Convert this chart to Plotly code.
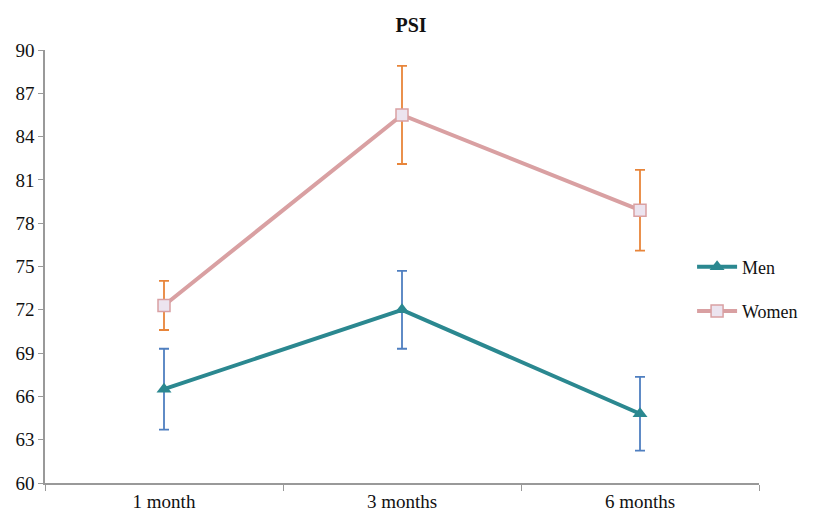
import plotly.graph_objects as go

categories = ["1 month", "3 months", "6 months"]
men = [66.5, 72.0, 64.8]
men_err = [2.8, 2.7, 2.55]
women = [72.3, 85.5, 78.9]
women_err = [1.7, 3.4, 2.8]
y_ticks = [60, 63, 66, 69, 72, 75, 78, 81, 84, 87, 90]

font_serif = "Liberation Serif, Times New Roman, serif"

fig = go.Figure()
fig.add_trace(go.Scatter(
    x=categories, y=men, name="Men", mode="lines+markers", legendgroup="men",
    line=dict(color="#2b8890", width=4),
    marker=dict(symbol="triangle-up", size=13, color="#2b8890"),
    error_y=dict(type="data", array=men_err, visible=True, color="#4f7fc0", thickness=1.8, width=5),
))
fig.add_trace(go.Scatter(
    x=categories, y=women, name="Women", mode="lines+markers", legendgroup="women",
    line=dict(color="#d9a0a2", width=4),
    marker=dict(symbol="square", size=12, color="#ece4ef", line=dict(color="#d9a0a2", width=1.5)),
    error_y=dict(type="data", array=women_err, visible=True, color="#e8853a", thickness=1.8, width=5),
))

fig.update_layout(
    width=806, height=505,
    margin=dict(l=37, r=54, t=42, b=30),
    paper_bgcolor="white", plot_bgcolor="white",
    title=dict(text="<b>PSI</b>", x=0.5, xanchor="center", y=0.966, yanchor="middle",
               font=dict(family=font_serif, size=20, color="#111")),
    font=dict(family=font_serif, color="#111"),
    showlegend=True,
    legend=dict(x=0.905, y=0.5416, xanchor="left", yanchor="top",
                font=dict(family=font_serif, size=18, color="#111"),
                bgcolor="rgba(0,0,0,0)", itemwidth=40, tracegroupgap=18),
)
fig.update_xaxes(
    type="category", tickson="boundaries", range=[-0.5, 2.5], automargin=False,
    showline=True, linecolor="#999", linewidth=2,
    ticks="outside", ticklen=6, tickcolor="#999",
    showgrid=False, zeroline=False,
    tickfont=dict(family=font_serif, size=19, color="#111"),
)
fig.update_yaxes(
    range=[60, 90], tickvals=y_ticks, ticktext=[str(v) for v in y_ticks], automargin=False,
    showline=True, linecolor="#999", linewidth=1.5,
    ticks="outside", ticklen=5, tickcolor="#999",
    showgrid=False, zeroline=False,
    tickfont=dict(family=font_serif, size=19, color="#111"),
)

fig.write_html("out.html")
